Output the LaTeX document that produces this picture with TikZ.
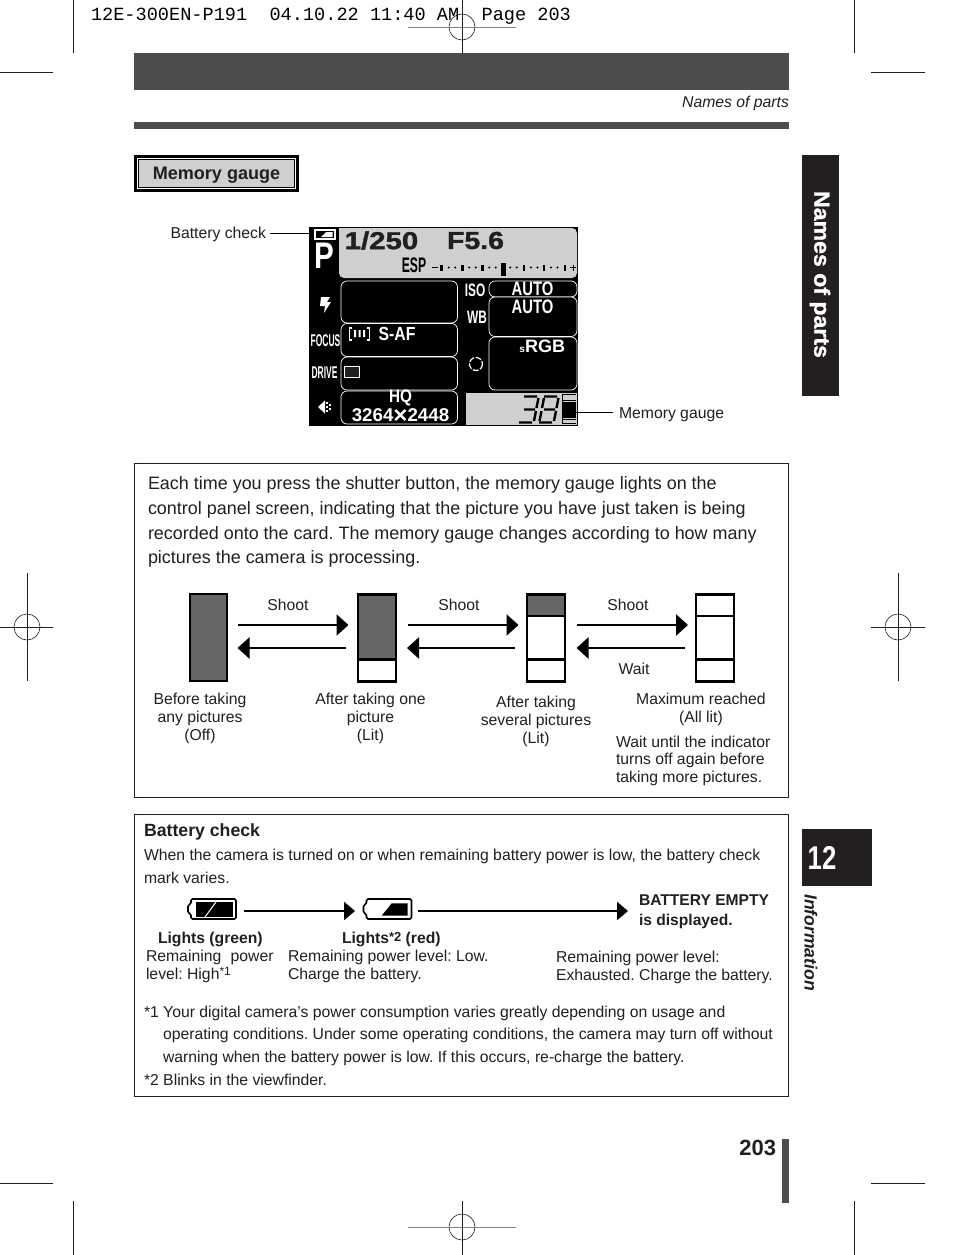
\documentclass[tikz,border=0pt]{standalone}
\usepackage{fontspec}
\setmainfont{Liberation Sans}
\setmonofont{Liberation Mono}
\newfontfamily\widefont{Liberation Sans}[BoldFeatures={FakeBold=1.2}]
\usetikzlibrary{arrows.meta,calc}
\newcommand\fs[1]{\fontsize{#1}{#1}\selectfont}
\definecolor{ink}{HTML}{231F20}
\definecolor{barc}{HTML}{4D4D4D}
\definecolor{gfill}{HTML}{666666}
\definecolor{lcdg}{HTML}{CFCFCF}
\tikzset{
 x=1pt,y=-1pt,
 txt/.style={inner sep=0pt,outer sep=0pt,text=ink,anchor=west,yshift=-1.3pt,font=\fs{15.75}},
 ctxt/.style={txt,anchor=center,align=center},
 body/.style={txt,font=\fs{17.95}},
 captxt/.style={ctxt,font=\fs{15.75}},
 smalltxt/.style={txt,font=\fs{15.75}},
 gauge/.style={draw=black,line width=2.5pt,minimum width=37pt,minimum height=87pt,inner sep=0pt,outer sep=0pt},
 bigarrow/.style={line width=2.6pt,draw=black,-{Triangle[length=12pt,width=21pt]},shorten >=0pt},
 batarrow/.style={draw=black,line width=2.5pt,-{Triangle[length=11pt,width=18pt]}},
 thinline/.style={draw=black,line width=0.9pt},
 crop/.style={draw=ink,line width=0.6pt},
 cropg/.style={draw=gray,line width=0.8pt},
 lcdw/.style={inner sep=0pt,outer sep=0pt,text=white,font=\bfseries\fs{17},anchor=center},
 lcdb/.style={draw=white,line width=0.7pt,rounded corners=6pt,fill=black},
 panel/.style={draw=ink,line width=0.8pt},
 segline/.style={draw=black,line width=2.4pt},
}
\newcommand\batt[2]{\draw[line width=1.6pt,rounded corners=1.5pt,draw=black] (#1+3,#2) -- (#1+48,#2) -- (#1+48,#2+20) -- (#1+3,#2+20) -- (#1+3,#2+15) -- (#1,#2+14) -- (#1,#2+6) -- (#1+3,#2+5) -- cycle;}
\newcommand\regmark[2]{\draw[crop] (#1,#2) circle (13);}
\frenchspacing
\begin{document}
\frenchspacing
\begin{tikzpicture}
\useasboundingbox (0,0) rectangle (954,1255);
\fill[white] (0,0) rectangle (954,1255);
% crop marks
\draw[crop] (73,0) -- (73,53) (0,72) -- (53,72) (854,0) -- (854,53) (871,72) -- (925,72);
\draw[crop] (73,1201) -- (73,1255) (0,1183) -- (53,1183) (854,1201) -- (854,1255) (871,1183) -- (925,1183);
\regmark{462}{27}\regmark{27}{627}\regmark{898}{627}\regmark{462}{1227}
\draw[cropg] (408,27) -- (516,27);
\draw[crop] (462,0) -- (462,53);
\draw[crop] (0,627) -- (53,627) (27,573) -- (27,681);
\draw[crop] (871,627) -- (925,627) (898,573) -- (898,681);
\draw[cropg] (408,1227) -- (516,1227);
\draw[crop] (462,1201) -- (462,1255);
\node[txt,text=black,font=\ttfamily\fs{18.6}] (slug) at (91,15) {12E-300EN-P191\ \ 04.10.22 11:40 AM\ \ Page 203};
% header
\fill[barc] (134,53) rectangle (789,90);
\fill[barc] (134,122) rectangle (789,129);
\node[txt,anchor=east,font=\itshape\fs{15.75}] (hdr) at (789,102) {Names of parts};
% button
\draw[black,line width=3pt] (135.5,156.5) rectangle (297.5,190.5);
\draw[black,fill=lcdg,line width=0.8pt] (138.5,159.5) rectangle (294.5,187.5);
\node[ctxt,font=\bfseries\fs{18.05}] (btn) at (216.5,174) {Memory gauge};
% side tabs
\fill[ink] (802,155) rectangle (839,396);
\node[rotate=-90,inner sep=0pt,text=white,xscale=1.05,font=\widefont\bfseries\fs{22}] (tabn) at (820,274.5) {Names of parts};
\fill[ink] (802,829) rectangle (872,886);
\node[inner sep=0pt,text=white,xscale=0.78,font=\bfseries\fs{33}] (tab12) at (822,858) {12};
\node[rotate=-90,inner sep=0pt,text=ink,font=\bfseries\itshape\fs{17.6}] (info) at (811,942.5) {Information};
\node[txt,anchor=east,font=\bfseries\fs{22}] (pg) at (776,1147) {203};
\fill[barc] (782,1139) rectangle (789,1203);
% LCD
\fill[black] (309,226.5) rectangle (578,426);
\draw[fill=lcdg,draw=none,rounded corners=5pt] (339,228) -- (339,278) -- (577,278) -- (577,228) [sharp corners] -- cycle;
\fill[lcdg] (466,393) rectangle (577,425);
\draw[lcdb] (341,281) rectangle (457.5,323);
\draw[lcdb] (341,323.5) rectangle (457.5,356.5);
\draw[lcdb] (341,357) rectangle (457.5,390);
\draw[lcdb] (341,391) rectangle (457.5,424);
\draw[lcdb] (489,281) rectangle (577,297);
\draw[lcdb] (489,297) rectangle (577,336.5);
\draw[lcdb] (489,337) rectangle (577,390);
\node[lcdw,font=\bfseries\fs{37},xscale=0.8] (p) at (324.5,255.5) {P};
\draw[white,line width=1.6pt] (315,230) rectangle (335,239);
\fill[white] (321,237) -- (326,232) -- (332.5,232) -- (332.5,237) -- cycle;
\node[text=ink,inner sep=0pt,anchor=center,font=\widefont\bfseries\fs{24.5},xscale=1.2] (sp) at (381.5,240.5) {1/250};
\node[text=ink,inner sep=0pt,anchor=center,font=\widefont\bfseries\fs{24.5},xscale=1.16] (ap) at (475.5,240.5) {F5.6};
\node[text=black,inner sep=0pt,anchor=center,font=\bfseries\fs{21},xscale=0.58] (esp) at (414,265) {ESP};
% exposure scale
\draw[black,line width=1.6pt] (432,267.5) -- (438,267.5);
\foreach \t in {441.7,462.3,482.3,524,544,565}{\fill[black] (\t-1.4,264.5) rectangle (\t+1.4,271);}
\fill[black] (500.5,263) rectangle (506,276);
\foreach \t in {441.7,462.3,482.3,503.3,524,544}{\fill[black] (\t+7,267.5) circle (1.1);\fill[black] (\t+13.5,267.5) circle (1.1);}
\draw[black,line width=0.8pt] (570,267.5) -- (576,267.5) (573,264.5) -- (573,270.5);
% left icons
\fill[white] (321,297) -- (330,297) -- (327,302) -- (331,302) -- (324,313) -- (325,306) -- (320,306) -- cycle;
\node[lcdw,font=\bfseries\fs{17},xscale=0.5] (fo) at (325.5,341) {FOCUS};
\node[lcdw,font=\bfseries\fs{17},xscale=0.5] (dr) at (324.5,373) {DRIVE};
\fill[white] (318,407) -- (325,400.5) -- (325,413.5) -- cycle;
\foreach \u/\v in {327/403,327/407,327/411,330/405,330/409}{\fill[white] (\u-0.8,\v-0.8) rectangle (\u+0.8,\v+0.8);}
\node[lcdw,font=\bfseries\fs{18},xscale=0.66] (iso) at (475,290) {ISO};
\node[lcdw,font=\bfseries\fs{18},xscale=0.66] (wb) at (477,317.5) {WB};
\node[lcdw,font=\bfseries\fs{19.5},xscale=0.76] (a1) at (532.5,289) {AUTO};
\node[lcdw,font=\bfseries\fs{19.5},xscale=0.76] (a2) at (532.5,307) {AUTO};
\node[lcdw,anchor=east,font=\bfseries\fs{18}] (srgb) at (565,346) {{\fs{10}s}RGB};
\draw[white,line width=1.2pt,dash pattern=on 6pt off 1.5pt] (476,364) circle (6.5);
\draw[white,line width=1.3pt] (352,328) -- (349.5,328) -- (349.5,340) -- (352,340) (367,328) -- (369.5,328) -- (369.5,340) -- (367,340);
\fill[white] (354,330) rectangle (356,337) (358.5,330) rectangle (360.5,337) (363,330) rectangle (365,337);
\node[lcdw,font=\bfseries\fs{19},xscale=0.83] (saf) at (397,334) {S-AF};
\draw[white,line width=0.9pt,fill=ink] (344.5,366.5) rectangle (359,377);
\node[lcdw,font=\bfseries\fs{18},xscale=0.85] (hq) at (400.5,398) {HQ};
\node[lcdw,font=\bfseries\fs{18.5},xscale=1.01] (res) at (400.5,415.5) {3264\smash{\raisebox{-1.5pt}{\fs{24}×}}2448};
% 7-seg 38
\foreach \d in {0,20}{
 \draw[segline] (524+\d,396.5) -- (537+\d,396.5) (538.5+\d,398) -- (536.5+\d,408) (524+\d,409.5) -- (535+\d,409.5) (536+\d,411) -- (534+\d,421) (519+\d,422.5) -- (532+\d,422.5);}
\draw[segline] (544,398) -- (542,408) (541.5,411) -- (539.5,421);
% memory gauge in LCD
\fill[black] (562,394) rectangle (576,424);
\foreach \a/\b in {395/399.5,401/402,418/419,420/423}{\fill[lcdg] (563,\a) rectangle (576,\b);}
\coordinate (bicon) at (313,233);
\coordinate (micon) at (575,412);
\node[smalltxt,anchor=east] (lb) at (266,233) {Battery check};
\node[smalltxt] (lm) at (619,413) {Memory gauge};
\draw[thinline] ($(bicon -| lb.east)+(4,0)$) -- (bicon);
\draw[thinline] (micon) -- ($(micon -| lm.west)+(-6,0)$);
% panel 1
\draw[panel] (134.5,463.5) rectangle (788.5,797);
\node[body] (t1) at (148,484) {Each time you press the shutter button, the memory gauge lights on the};
\node[body] (t2) at (148,508.5) {control panel screen, indicating that the picture you have just taken is being};
\node[body] (t3) at (148,534) {recorded onto the card. The memory gauge changes according to how many};
\node[body] (t4) at (148,557.5) {pictures the camera is processing.};
\fill[gfill] (190,595) rectangle (227,681);
\fill[gfill] (358,596) rectangle (396,659);
\fill[gfill] (527,595) rectangle (565,616);
\node[gauge] (g1) at (208.5,637.5) {};
\node[gauge,minimum width=38pt] (g2) at (377,638) {};
\node[gauge,minimum width=38pt] (g3) at (546,638) {};
\node[gauge,minimum width=38pt] (g4) at (715,638) {};
\draw[black,line width=2.5pt] ($(g2.west)+(0,21.5)$) -- ($(g2.east)+(0,21.5)$);
\draw[black,line width=2.5pt] ($(g3.west)+(0,-22)$) -- ($(g3.east)+(0,-22)$) ($(g3.west)+(0,21.5)$) -- ($(g3.east)+(0,21.5)$);
\draw[black,line width=2.5pt] ($(g4.west)+(0,-22)$) -- ($(g4.east)+(0,-22)$) ($(g4.west)+(0,21.5)$) -- ($(g4.east)+(0,21.5)$);
\draw[bigarrow] ($(g1.east)+(11,-12.5)$) -- ($(g2.west)+(-9.5,-13)$);
\draw[bigarrow] ($(g2.west)+(-12,10)$) -- ($(g1.east)+(10.5,10.5)$);
\draw[bigarrow] ($(g2.east)+(12,-13)$) -- ($(g3.west)+(-8.5,-13)$);
\draw[bigarrow] ($(g3.west)+(-12,10)$) -- ($(g2.east)+(11,10)$);
\draw[bigarrow] ($(g3.east)+(12,-13)$) -- ($(g4.west)+(-8,-13)$);
\draw[bigarrow] ($(g4.west)+(-11,10)$) -- ($(g3.east)+(11.5,10)$);
\node[captxt] (s1) at (288,604) {Shoot};
\node[captxt] (s2) at (459,604) {Shoot};
\node[captxt] (s3) at (628,604) {Shoot};
\node[captxt] (w) at (634,668) {Wait};
\node[captxt] (c1a) at (200,699) {Before taking};
\node[captxt] (c1b) at (200,717) {any pictures};
\node[captxt] (c1c) at (200,735) {(Off)};
\node[captxt] (c2a) at (370.5,699) {After taking one};
\node[captxt] (c2b) at (370.5,717) {picture};
\node[captxt] (c2c) at (370.5,735) {(Lit)};
\node[captxt] (c3a) at (536,702) {After taking};
\node[captxt] (c3b) at (536,720) {several pictures};
\node[captxt] (c3c) at (536,738) {(Lit)};
\node[captxt] (c4a) at (701,698) {Maximum reached};
\node[captxt] (c4b) at (701,717) {(All lit)};
\node[smalltxt] (c4c) at (616,741) {Wait until the indicator};
\node[smalltxt] (c4d) at (616,759) {turns off again before};
\node[smalltxt] (c4e) at (616,777) {taking more pictures.};
% panel 2
\draw[panel] (134.5,814.5) rectangle (788.5,1096.5);
\node[txt,font=\bfseries\fs{17.7}] (bc) at (144,831) {Battery check};
\node[smalltxt] (b1) at (144,855) {When the camera is turned on or when remaining battery power is low, the battery check};
\node[smalltxt] (b2) at (144,877) {mark varies.};
\batt{188}{899}
\fill[black] (196,902) rectangle (233,917);
\draw[white,line width=1pt] (205,917) -- (216,902);
\coordinate (bat1) at (236,911);
\batt{363.5}{899}
\fill[black] (381.7,915.7) -- (391.7,903.3) -- (407.7,903.3) -- (407.7,915.7) -- cycle;
\coordinate (bat2l) at (363,911);
\coordinate (bat2r) at (412,911);
\node[txt,font=\bfseries\fs{15.6}] (be1) at (639,899) {BATTERY EMPTY};
\node[txt,font=\bfseries\fs{15.6}] (be2) at (639,920) {is displayed.};
\coordinate (bend) at (628,911);
\draw[batarrow] ($(bat1)+(8,0)$) -- ($(bat2l)+(-8,0)$);
\draw[batarrow] ($(bat2r)+(6,0)$) -- (bend);
\node[txt,font=\bfseries\fs{15.7}] (l1) at (158,938) {Lights (green)};
\node[txt,font=\bfseries\fs{15.7}] (l2) at (342,938) {Lights{\fs{13}\raisebox{2pt}{*2}} (red)};
\node[smalltxt] (r1a) at (146,956) {Remaining\hspace{5pt} power};
\node[smalltxt] (r1b) at (146,974) {level: High{\fs{12}\raisebox{4pt}{*1}}};
\node[smalltxt] (r2a) at (288,956) {Remaining power level: Low.};
\node[smalltxt] (r2b) at (288,974) {Charge the battery.};
\node[smalltxt] (r3a) at (556,957) {Remaining power level:};
\node[smalltxt] (r3b) at (556,975) {Exhausted. Charge the battery.};
\node[smalltxt] (f1) at (144,1012) {*1 Your digital camera's power consumption varies greatly depending on usage and};
\node[smalltxt] (f2) at (163,1034) {operating conditions. Under some operating conditions, the camera may turn off without};
\node[smalltxt] (f3) at (163,1057) {warning when the battery power is low. If this occurs, re-charge the battery.};
\node[smalltxt] (f4) at (144,1079) {*2 Blinks in the viewfinder.};
\end{tikzpicture}
\end{document}
